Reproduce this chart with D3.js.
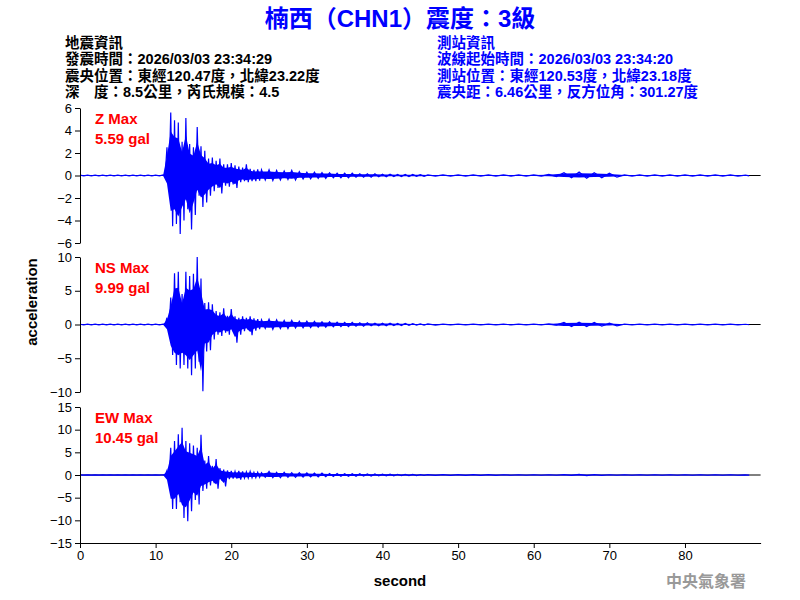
<!DOCTYPE html>
<html><head><meta charset="utf-8">
<script src="https://cdn.jsdelivr.net/npm/d3@7"></script>
<style>body{margin:0;background:#fff}</style></head>
<body><svg id="c" width="800" height="600"></svg>
<script>
// time grid: quiet pre-event (step 1), main shaking (step 0.5), coda (step 1), tail (step 2)
const timesPre = d3.range(0, 11.5, 1);
const timesMain = d3.range(11.5, 24.01, 0.5);
const timesCoda = d3.range(25, 45.01, 1);
const timesTail = d3.range(46, 88.01, 2);
const times = [...timesPre, ...timesMain, ...timesCoda, ...timesTail];

const pre = [0.04,0.04,0.04,0.04,0.04,0.04,0.04,0.04,0.04,0.04,0.04,0.05];

const zTop = [...pre,
 2.5,5.6,4.9,4.7,3.0,5.1,2.8,2.5,4.3,2.6,2.2,1.5,1.6,1.3,1.5,1.0,1.0,1.1,0.9,0.8,0.7,1.0,0.6,0.5,0.55,0.5,
 0.5,0.45,0.4,0.45,0.35,0.3,0.3,0.25,0.25,0.2,0.2,0.2,0.15,0.15,0.15,0.12,0.12,0.1,0.1,0.1,0.08,
 0.06,0.05,0.05,0.05,0.05,0.05,0.05,0.05,0.1,0.25,0.3,0.25,0.2,0.05,0.05,0.05,0.05,0.05,0.05,0.05,0.05,0.04];
const zBot = [...pre,
 1.0,4.5,4.3,5.2,4.0,3.0,4.8,3.5,1.8,2.8,2.4,1.8,1.4,1.1,1.6,0.9,1.0,0.8,1.1,0.6,0.5,0.6,0.5,0.5,0.45,0.4,
 0.45,0.4,0.35,0.4,0.3,0.3,0.25,0.25,0.2,0.2,0.2,0.15,0.15,0.15,0.12,0.12,0.1,0.1,0.1,0.08,0.08,
 0.06,0.05,0.05,0.05,0.05,0.05,0.05,0.05,0.1,0.2,0.25,0.2,0.15,0.05,0.05,0.05,0.05,0.05,0.05,0.05,0.05,0.04];

const nsTop = [...pre,
 1.0,4.0,7.6,7.8,4.5,7.8,7.2,7.5,10.0,6.8,3.2,3.3,3.0,2.0,1.8,2.4,1.3,2.3,1.2,1.0,1.2,1.0,1.2,0.9,0.8,0.7,
 0.8,0.7,0.6,0.6,0.5,0.5,0.45,0.4,0.4,0.35,0.3,0.3,0.25,0.25,0.2,0.2,0.2,0.15,0.15,0.12,0.1,
 0.08,0.06,0.06,0.05,0.05,0.05,0.05,0.05,0.1,0.3,0.35,0.3,0.2,0.05,0.05,0.05,0.05,0.05,0.05,0.05,0.05,0.04];
const nsBot = [...pre,
 1.0,4.5,6.0,6.5,6.0,6.5,7.5,6.5,5.5,9.9,4.0,3.8,2.2,1.5,1.7,1.2,1.5,1.0,2.7,1.5,1.0,0.8,1.6,0.9,0.7,0.6,
 0.7,0.6,0.6,0.5,0.5,0.45,0.4,0.4,0.35,0.3,0.3,0.25,0.25,0.2,0.2,0.2,0.15,0.15,0.12,0.1,0.1,
 0.08,0.06,0.06,0.05,0.05,0.05,0.05,0.05,0.1,0.3,0.3,0.25,0.2,0.05,0.05,0.05,0.05,0.05,0.05,0.05,0.05,0.04];

const ewTop = [...pre,
 1.0,6.0,7.5,9.0,10.4,7.5,7.0,6.5,6.0,8.9,3.2,4.2,2.0,3.5,1.5,1.2,1.0,0.9,0.8,0.9,0.8,0.7,0.8,0.6,0.6,0.5,
 0.8,0.6,0.6,0.5,0.5,0.45,0.4,0.4,0.35,0.35,0.3,0.3,0.3,0.25,0.25,0.2,0.2,0.15,0.15,0.12,0.1,
 0.08,0.1,0.08,0.08,0.08,0.06,0.06,0.06,0.06,0.1,0.15,0.1,0.06,0.05,0.05,0.05,0.05,0.05,0.05,0.05,0.05,0.04];
const ewBot = [...pre,
 1.5,7.5,7.5,6.0,9.5,10.2,8.0,5.5,6.5,3.5,3.0,2.3,1.8,3.0,1.2,2.5,0.9,0.8,0.8,1.0,0.7,0.7,0.6,0.6,0.5,0.5,
 0.6,0.6,0.5,0.5,0.45,0.4,0.4,0.35,0.35,0.3,0.3,0.3,0.25,0.25,0.2,0.2,0.2,0.15,0.15,0.12,0.1,
 0.08,0.1,0.08,0.08,0.08,0.06,0.06,0.06,0.06,0.1,0.12,0.1,0.06,0.05,0.05,0.05,0.05,0.05,0.05,0.05,0.05,0.04];

const panels = [
  {name:"Z", top:zTop, bot:zBot, domain:[-6,6], ticks:[-6,-4,-2,0,2,4,6], y0:108, y1:243, label:"Z Max", max:"5.59 gal"},
  {name:"NS", top:nsTop, bot:nsBot, domain:[-10,10], ticks:[-10,-5,0,5,10], y0:257, y1:392, label:"NS Max", max:"9.99 gal"},
  {name:"EW", top:ewTop, bot:ewBot, domain:[-15,15], ticks:[-15,-10,-5,0,5,10,15], y0:407, y1:543, label:"EW Max", max:"10.45 gal"}
];
const xTicks = [0,10,20,30,40,50,60,70,80];

const title = "楠西（CHN1）震度：3級";
const leftInfo = ["地震資訊","發震時間：2026/03/03 23:34:29","震央位置：東經120.47度，北緯23.22度","深　度：8.5公里，芮氏規模：4.5"];
const rightInfo = ["測站資訊","波線起始時間：2026/03/03 23:34:20","測站位置：東經120.53度，北緯23.18度","震央距：6.46公里，反方位角：301.27度"];

const svg = d3.select("#c");
const font = "'Liberation Sans', Arial, 'Noto Sans CJK TC', sans-serif";
const x = d3.scaleLinear().domain([0,90]).range([80,760.6]);

svg.append("text").attr("x",400).attr("y",27).attr("text-anchor","middle")
  .attr("fill","#0000ff").attr("font-weight","bold").attr("font-size",24).attr("font-family",font).text(title);
leftInfo.forEach((t,i)=>svg.append("text").attr("x",65).attr("y",48+i*16.3).attr("font-size",14.5)
  .attr("font-weight","bold").attr("font-family",font).attr("fill","#000").text(t));
rightInfo.forEach((t,i)=>svg.append("text").attr("x",437).attr("y",48+i*16.3).attr("font-size",14.5)
  .attr("font-weight","bold").attr("font-family",font).attr("fill","#0000ff").text(t));

panels.forEach((p,pi)=>{
  const y = d3.scaleLinear().domain(p.domain).range([p.y1,p.y0]);
  const rows = times.map((t,i)=>({t, hi:p.top[i], lo:-p.bot[i]}));
  const pts = [];
  times.forEach((t,i)=>{
    const step = i<times.length-1 ? times[i+1]-t : 1;
    pts.push([t, p.top[i]]);
    pts.push([t+step/2, -p.bot[i]]);
  });
  svg.append("line").attr("x1",80).attr("x2",760.6).attr("y1",y(0)).attr("y2",y(0)).attr("stroke","#000").attr("stroke-width",1);
  // inner body (70% of envelope) filled, ragged zigzag outline on top
  svg.append("path").attr("d",d3.area().x(d=>x(d.t)).y0(d=>y(d.lo*0.7)).y1(d=>y(d.hi*0.7))(rows))
    .attr("fill","#0000ff").attr("stroke","none");
  svg.append("path").attr("d",d3.line().x(d=>x(d[0])).y(d=>y(d[1]))(pts))
    .attr("fill","none").attr("stroke","#0000ff").attr("stroke-width",1.2);
  const ax = svg.append("g").attr("transform","translate(80,0)")
    .call(d3.axisLeft(y).tickValues(p.ticks).tickSize(5).tickSizeOuter(0));
  ax.selectAll("text").attr("font-size",13).attr("font-family",font).attr("fill","#000");
  ax.select(".domain").attr("stroke","#000");
  svg.append("text").attr("x",95).attr("y",p.y0+16).attr("fill","#ff0000").attr("font-weight","bold")
    .attr("font-size",15).attr("font-family",font).text(p.label);
  svg.append("text").attr("x",95).attr("y",p.y0+36).attr("fill","#ff0000").attr("font-weight","bold")
    .attr("font-size",15).attr("font-family",font).text(p.max);
});

const xa = svg.append("g").attr("transform","translate(0,543)")
  .call(d3.axisBottom(x).tickValues(xTicks).tickSize(5).tickSizeOuter(0));
xa.selectAll("text").attr("font-size",13).attr("font-family",font).attr("fill","#000");

svg.append("text").attr("transform","translate(37,302) rotate(-90)").attr("text-anchor","middle")
  .attr("font-size",15).attr("font-weight","bold").attr("font-family",font).text("acceleration");
svg.append("text").attr("x",400).attr("y",586).attr("text-anchor","middle")
  .attr("font-size",15).attr("font-weight","bold").attr("font-family",font).text("second");
svg.append("text").attr("x",746).attr("y",587).attr("text-anchor","end").attr("fill","#999")
  .attr("font-size",16).attr("font-weight","bold").attr("font-family","'Noto Sans CJK TC', sans-serif").text("中央氣象署");
</script></body></html>
